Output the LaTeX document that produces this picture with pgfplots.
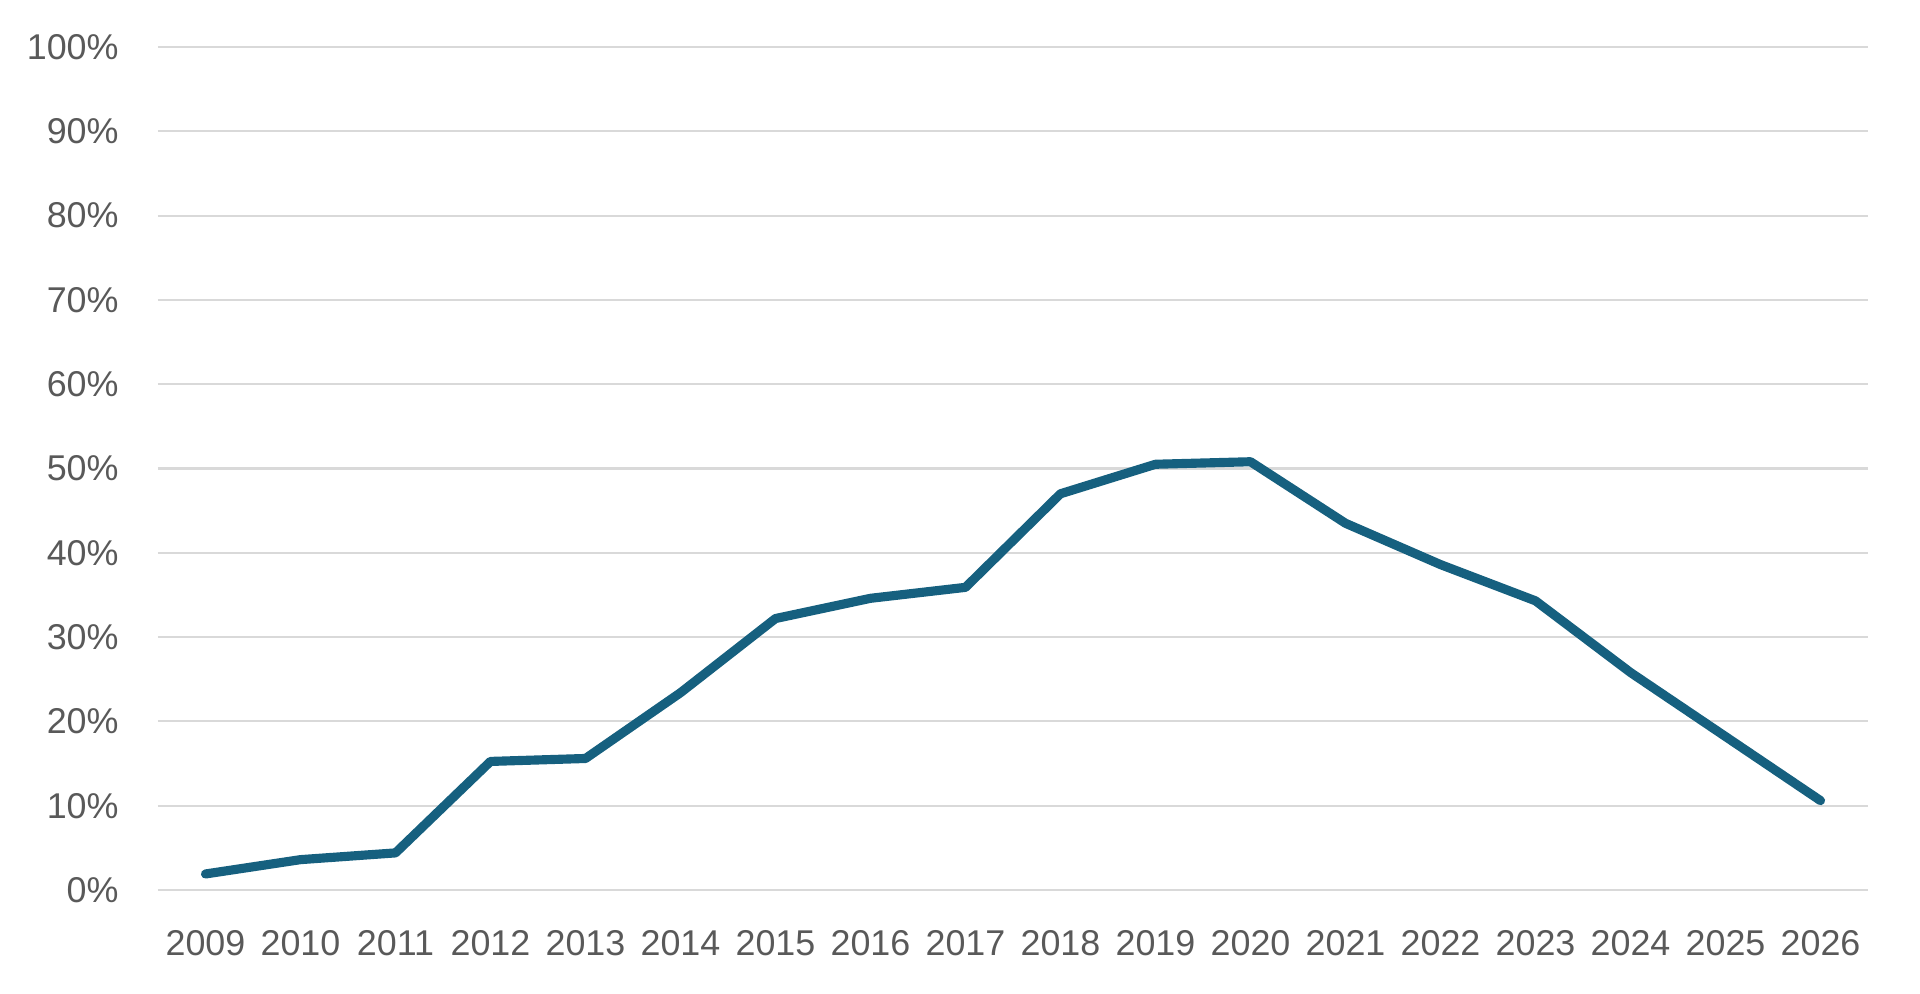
\documentclass[border=0pt]{standalone}
\usepackage{pgfplots}
\pgfplotsset{compat=1.18}
\usepackage{fontspec}
\setmainfont{Liberation Sans}
\definecolor{linec}{HTML}{16607F}
\definecolor{gridc}{HTML}{D9D9D9}
\definecolor{textc}{HTML}{595959}
\begin{document}
\begin{tikzpicture}
\path[use as bounding box] (-15.8mm,-10.4mm) rectangle (176.2mm,89.0mm);
\begin{axis}[
  at={(0,0)}, anchor=south west,
  scale only axis, width=171mm, height=84.3mm,
  xmin=-0.5, xmax=17.5, ymin=0, ymax=100,
  axis line style={draw=none},
  major tick length=0pt,
  xtick={0,...,17},
  xticklabels={2009,2010,2011,2012,2013,2014,2015,2016,2017,2018,2019,2020,2021,2022,2023,2024,2025,2026},
  ytick={0,10,...,100},
  yticklabel={\pgfmathprintnumber{\tick}\%},
  ymajorgrids, grid style={gridc, line width=0.6pt},
  /pgf/number format/assume math mode=true,
  tick label style={font=\fontsize{10.2}{12}\selectfont, text=textc},
  xticklabel style={yshift=-8pt},
  yticklabel style={xshift=-7.7pt},
  clip=false,
]
\addplot[linec, line width=2.6pt, line cap=round, line join=round] coordinates {
(0,1.9) (1,3.6) (2,4.4) (3,15.25) (4,15.6) (5,23.4) (6,32.2) (7,34.6) (8,35.9)
(9,47.0) (10,50.5) (11,50.8) (12,43.5) (13,38.6) (14,34.3) (15,25.8) (16,18.2) (17,10.6)
};
\end{axis}
\end{tikzpicture}
\end{document}
